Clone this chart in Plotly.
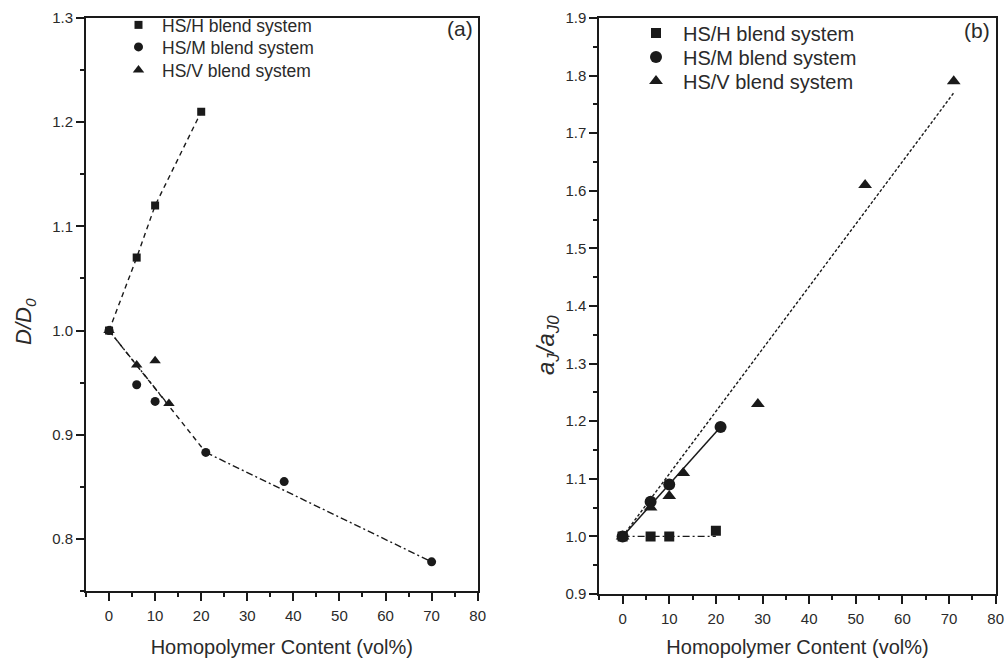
import plotly.graph_objects as go

# ---------------- data ----------------
# Panel (a): D/D0 vs homopolymer content
a_H_x = [0, 6, 10, 20]
a_H_y = [1.00, 1.07, 1.12, 1.21]
a_M_x = [0, 6, 10, 21, 38, 70]
a_M_y = [1.00, 0.948, 0.932, 0.883, 0.855, 0.778]
a_V_x = [0, 6, 10, 13]
a_V_y = [1.00, 0.967, 0.971, 0.930]
# guide lines of panel (a)
a_fitM1_x = [0, 21]
a_fitM1_y = [1.00, 0.883]
a_fitM2_x = [21, 70]
a_fitM2_y = [0.883, 0.778]
a_fitV_x = [0, 13]
a_fitV_y = [1.00, 0.928]

# Panel (b): aJ/aJ0 vs homopolymer content
b_H_x = [0, 6, 10, 20]
b_H_y = [1.00, 1.00, 1.00, 1.01]
b_M_x = [0, 6, 10, 21]
b_M_y = [1.00, 1.06, 1.09, 1.19]
b_V_x = [0, 6, 10, 13, 29, 52, 71]
b_V_y = [1.00, 1.05, 1.07, 1.11, 1.23, 1.61, 1.79]
# guide lines of panel (b)
b_fitH_x = [0, 20]
b_fitH_y = [1.00, 1.00]
b_fitM_x = [0, 21]
b_fitM_y = [1.00, 1.19]
b_fitV_x = [0, 71]
b_fitV_y = [1.00, 1.77]

series_names = ["HS/H blend system", "HS/M blend system", "HS/V blend system"]
x_ticks = [0, 10, 20, 30, 40, 50, 60, 70, 80]

INK = "#1a1a1a"
TXT = "#2a2a2a"
FONT = "Liberation Sans, Arial, sans-serif"
W, H = 1005, 658

fig = go.Figure()

def line(x, y, dash, ax, width=1.4):
    fig.add_trace(go.Scatter(x=x, y=y, mode="lines", xaxis=ax[0], yaxis=ax[1],
                             line=dict(color=INK, width=width, dash=dash),
                             showlegend=False, hoverinfo="skip"))

# panel (a) lines
line(a_H_x, a_H_y, "5px,4px", ("x", "y"))
line(a_fitM1_x, a_fitM1_y, "5px,4px", ("x", "y"))
line(a_fitV_x, a_fitV_y, "6px,3px,2px,3px", ("x", "y"))
line(a_fitM2_x, a_fitM2_y, "7px,3px,2px,3px", ("x", "y"))
# panel (b) lines
line(b_fitH_x, b_fitH_y, "7px,3px,2px,3px", ("x2", "y2"))
line(b_fitM_x, b_fitM_y, "solid", ("x2", "y2"), width=1.5)
line(b_fitV_x, b_fitV_y, "3px,2px", ("x2", "y2"), width=1.4)

def pts(x, y, sym, size, name, ax, legend):
    fig.add_trace(go.Scatter(x=x, y=y, mode="markers", name=name,
                             xaxis=ax[0], yaxis=ax[1], legend=legend,
                             marker=dict(symbol=sym, size=size, color=INK,
                                         line=dict(width=0))))

pts(a_H_x, a_H_y, "square", 8, series_names[0], ("x", "y"), "legend")
pts(a_M_x, a_M_y, "circle", 9, series_names[1], ("x", "y"), "legend2")
pts(a_V_x, a_V_y, "triangle-up", 10, series_names[2], ("x", "y"), "legend3")
pts(b_H_x, b_H_y, "square", 10, series_names[0], ("x2", "y2"), "legend4")
pts(b_M_x, b_M_y, "circle", 12, series_names[1], ("x2", "y2"), "legend5")
pts(b_V_x, b_V_y, "triangle-up", 12, series_names[2], ("x2", "y2"), "legend6")

def xax(domain, anchor):
    return dict(domain=domain, anchor=anchor, range=[-5, 80],
                tickmode="array", tickvals=x_ticks, ticktext=[str(v) for v in x_ticks],
                ticks="outside", ticklen=8, tickwidth=1.5, tickcolor=INK,
                ticklabelstandoff=2,
                minor=dict(dtick=5, tick0=0, ticks="outside", ticklen=4, tickwidth=1.5, tickcolor=INK),
                showline=True, linewidth=2, linecolor=INK, mirror=True,
                showgrid=False, zeroline=False,
                tickfont=dict(family=FONT, size=15, color=TXT),
                title=dict(text="Homopolymer Content (vol%)", standoff=26,
                           font=dict(family=FONT, size=20, color=TXT)))

def yax(domain, anchor, rng, dtick, fmt):
    return dict(domain=domain, anchor=anchor, range=rng,
                dtick=dtick, tick0=0, tickformat=fmt,
                ticks="outside", ticklen=8, tickwidth=1.5, tickcolor=INK,
                minor=dict(dtick=dtick / 2, tick0=0, ticks="outside", ticklen=4, tickwidth=1.5, tickcolor=INK),
                showline=True, linewidth=2, linecolor=INK, mirror=True,
                showgrid=False, zeroline=False,
                tickfont=dict(family=FONT, size=15, color=TXT))

def leg(left_px, center_px, size, itemwidth):
    return dict(x=left_px / W, y=1 - center_px / H,
                xanchor="left", yanchor="middle",
                bgcolor="rgba(0,0,0,0)", borderwidth=0, itemwidth=itemwidth,
                font=dict(family=FONT, size=size, color=TXT))

fig.update_layout(
    width=W, height=H, margin=dict(l=0, r=0, t=0, b=0, autoexpand=False),
    paper_bgcolor="white", plot_bgcolor="white",
    xaxis=xax([86 / W, 477.7 / W], "y"),
    yaxis=yax([1 - 591 / H, 1 - 18 / H], "x", [0.75, 1.3], 0.1, ".1f"),
    xaxis2=xax([599.3 / W, 995.7 / W], "y2"),
    yaxis2=yax([1 - 594 / H, 1 - 18 / H], "x2", [0.9, 1.9], 0.1, ".1f"),
    legend=leg(115, 25, 17.5, 37),
    legend2=leg(115, 47, 17.5, 37),
    legend3=leg(115, 70, 17.5, 37),
    legend4=leg(629, 33, 20, 44),
    legend5=leg(629, 57, 20, 44),
    legend6=leg(629, 81, 20, 44),
    annotations=[
        dict(text="(a)", x=460 / W, y=1 - 29 / H, xref="paper", yref="paper",
             xanchor="center", yanchor="middle",
             showarrow=False, font=dict(family=FONT, size=21, color=TXT)),
        dict(text="(b)", x=977 / W, y=1 - 31 / H, xref="paper", yref="paper",
             xanchor="center", yanchor="middle",
             showarrow=False, font=dict(family=FONT, size=21, color=TXT)),
        dict(text="<i>D/D<sub>0</sub></i>", x=25 / W, y=1 - 322 / H, xref="paper", yref="paper",
             xanchor="center", yanchor="middle",
             textangle=-90, showarrow=False, font=dict(family=FONT, size=22, color=TXT)),
        dict(text="<i>a<sub>J</sub>/a<sub>J0</sub></i>", x=547 / W, y=1 - 345 / H,
             xref="paper", yref="paper", xanchor="center", yanchor="middle",
             textangle=-90, showarrow=False, font=dict(family=FONT, size=24, color=TXT)),
    ],
)

fig.write_html("out.html")
